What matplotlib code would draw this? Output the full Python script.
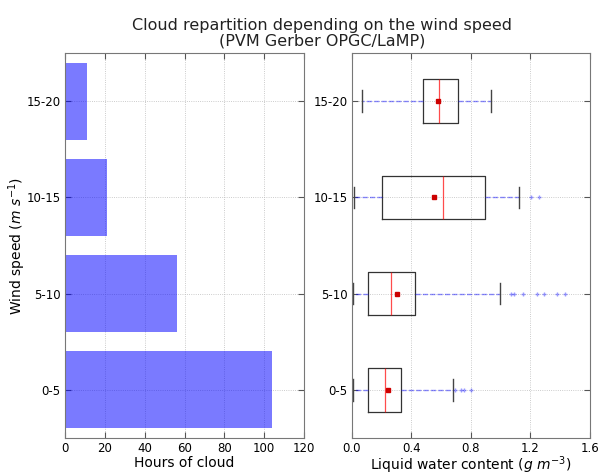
import numpy as np
import matplotlib
matplotlib.use('Agg')
import matplotlib.pyplot as plt

# Wind speed classes (m/s)
categories = ['0-5', '5-10', '10-15', '15-20']

# Hours of cloud per class
hours = [104, 56, 21, 11]

# Liquid water content box statistics (g m-3)
lwc_whislo = [0.004, 0.009, 0.014, 0.068]
lwc_q1 = [0.106, 0.106, 0.205, 0.476]
lwc_med = [0.225, 0.264, 0.613, 0.584]
lwc_q3 = [0.331, 0.421, 0.897, 0.710]
lwc_whishi = [0.680, 0.993, 1.124, 0.932]
lwc_mean = [0.239, 0.302, 0.552, 0.575]
lwc_fliers = [[0.69, 0.73, 0.755, 0.80],
              [1.068, 1.09, 1.153, 1.243, 1.293, 1.378, 1.432],
              [1.203, 1.257],
              []]

fig = plt.figure(figsize=(5.98, 4.75), dpi=100)
ax1 = fig.add_axes([0.1087, 0.0779, 0.3997, 0.8105])
ax2 = fig.add_axes([0.5886, 0.0779, 0.3980, 0.8105])

pos = np.arange(len(categories))

# Left: hours of cloud
ax1.barh(pos, hours, height=0.8, color='blue', alpha=0.52, linewidth=0)
ax1.set_xlim(0, 120)
ax1.set_ylim(-0.5, 3.5)
ax1.set_xticks(range(0, 121, 20))
ax1.set_yticks(pos)
ax1.set_yticklabels(categories)
ax1.set_xlabel('Hours of cloud', fontsize=10, va='center')
ax1.xaxis.set_label_coords(0.5, -0.066)
ax1.set_ylabel('Wind speed ($m\\ s^{-1}$)', fontsize=10, va='center')
ax1.yaxis.set_label_coords(-0.2, 0.5)

# Right: liquid water content
stats = []
for i in range(len(categories)):
    stats.append({'whislo': lwc_whislo[i], 'q1': lwc_q1[i], 'med': lwc_med[i],
                  'q3': lwc_q3[i], 'whishi': lwc_whishi[i], 'mean': lwc_mean[i],
                  'fliers': lwc_fliers[i]})

ax2.bxp(stats, positions=pos, vert=False, widths=0.45, showmeans=True,
        boxprops=dict(color='#333333', linewidth=0.9),
        medianprops=dict(color='red', linewidth=0.9, alpha=0.7),
        whiskerprops=dict(color='blue', linestyle='--', linewidth=1, alpha=0.45),
        capprops=dict(color='#444444', linewidth=1),
        flierprops=dict(marker='+', markersize=3, markeredgecolor='blue', alpha=0.4),
        meanprops=dict(marker='s', markersize=3.5, markerfacecolor='#cc0000',
                       markeredgecolor='#cc0000'))
ax2.set_xlim(0, 1.6)
ax2.set_ylim(-0.5, 3.5)
ax2.set_xticks(np.arange(0, 1.61, 0.4))
ax2.set_xticklabels(['0.0', '0.4', '0.8', '1.2', '1.6'])
ax2.set_yticks(pos)
ax2.set_yticklabels(categories)
ax2.set_xlabel('Liquid water content ($g\\ m^{-3}$)', fontsize=10, va='center')
ax2.xaxis.set_label_coords(0.5, -0.07)

for ax in (ax1, ax2):
    ax.grid(True, color='#bbbbbb', linestyle=':', linewidth=0.6)
    ax.set_axisbelow(True)
    ax.tick_params(labelsize=8.5, direction='in', top=True, right=True, length=4,
                   color='#555555', pad=3)
    for s in ax.spines.values():
        s.set_color('#777777')

fig.text(0.539, 0.962, 'Cloud repartition depending on the wind speed\n(PVM Gerber OPGC/LaMP)',
         ha='center', va='top', fontsize=11.5, linespacing=1.0, color='#222222')

fig.savefig('out.png', dpi=100)
